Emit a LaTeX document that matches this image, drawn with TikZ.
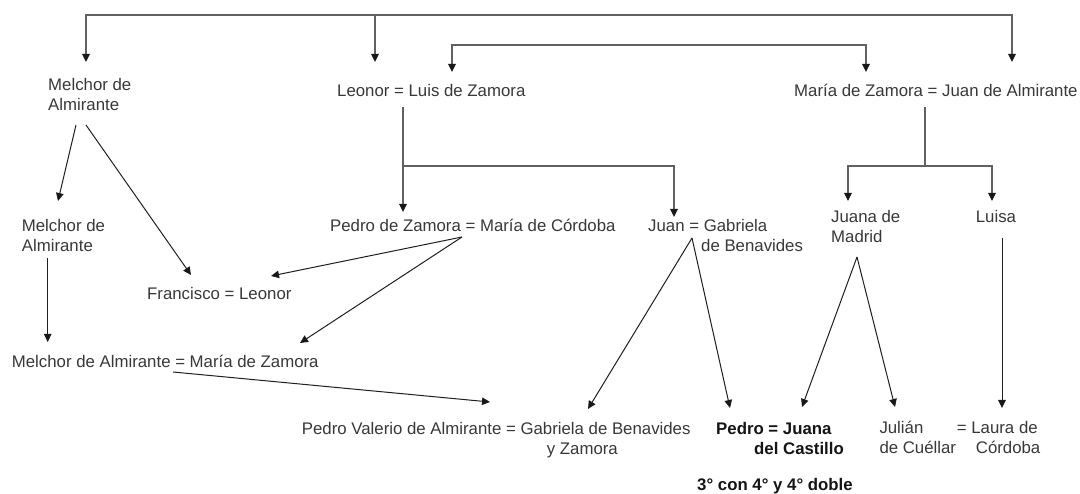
\documentclass[tikz,border=0pt]{standalone}
\usepackage{fontspec}
\setmainfont{Liberation Sans}
\usetikzlibrary{arrows.meta}
\begin{document}
\begin{tikzpicture}[x=1pt,y=-1pt,
  lbl/.style={anchor=base west, inner sep=0pt, align=left, text=black!78, font=\fontsize{16.8}{20}\selectfont},
  blbl/.style={lbl, text=black!92, font=\fontsize{16.8}{20}\selectfont\bfseries},
  treeline/.style={draw=black!62, line width=1.4pt},
  tree/.style={treeline, -{Triangle[length=8pt,width=7.5pt,color=black!90]}},
  diag/.style={draw=black!88, line width=1pt, -{Triangle[length=8pt,width=7.5pt,color=black!90]}}]
\useasboundingbox (0,0) rectangle (1080,494);

% labels (two-line labels are placed by the baseline of their last line)
\node[lbl] (m1) at (48,111) {Melchor de\\Almirante};
\node[lbl] (lz) at (337,97) {Leonor = Luis de Zamora};
\node[lbl] (mz) at (794,97) {María de Zamora = Juan de Almirante};
\node[lbl] (m2) at (21.7,251.7) {Melchor de\\Almirante};
\node[lbl] (pz) at (330,231.7) {Pedro de Zamora = María de Córdoba};
\node[lbl] (ju) at (648,251.7) {Juan = Gabriela\\\hspace*{53pt}de Benavides};
\node[lbl] (jm) at (831,242.7) {Juana de\\Madrid};
\node[lbl] (lu) at (975.7,222.7) {Luisa};
\node[lbl] (fr) at (147,300) {Francisco = Leonor};
\node[lbl] (mm) at (11.7,367.3) {Melchor de Almirante = María de Zamora};
\node[lbl] (pv) at (301.7,454) {Pedro Valerio de Almirante = Gabriela de Benavides\\\hspace*{245pt}y Zamora};
\node[blbl] (pj) at (716,454) {Pedro = Juana\\\hspace*{38pt}del Castillo};
\node[lbl] (jc) at (879.3,453.3) {Julián\\de Cuéllar};
\node[lbl] (lc) at (956.7,453.3) {= Laura de\\\hspace*{19pt}Córdoba};
\node[blbl] (nt) at (697,490) {3° con 4° y 4° doble};

% connection points
\coordinate (topL) at (86,15);
\coordinate (topM) at (375,15);
\coordinate (topR) at (1012,15);
\coordinate (m1in) at (86,62);
\coordinate (lzin1) at (375,62);
\coordinate (mzin2) at (1012,62);
\coordinate (b2m) at (659,45);
\coordinate (b2L) at (452,45);
\coordinate (b2R) at (866,45);
\coordinate (lzin2) at (452,72);
\coordinate (mzin1) at (866,72);
\coordinate (lzout) at (403,107);
\coordinate (lzj) at (403,166);
\coordinate (lzj2) at (674,166);
\coordinate (pzin) at (403,212);
\coordinate (juin) at (674,217);
\coordinate (mzout) at (925,107);
\coordinate (mzj) at (925,166);
\coordinate (mzjL) at (848,166);
\coordinate (mzjR) at (992,166);
\coordinate (jmin) at (848,201);
\coordinate (luin) at (992,201);
\coordinate (m1outA) at (76,125);
\coordinate (m1outB) at (86,125);
\coordinate (m2in) at (58,201);
\coordinate (frinA) at (191,275);
\coordinate (frinB) at (271,276);
\coordinate (m2out) at (47.7,258);
\coordinate (mmin1) at (47.7,342);
\coordinate (mmin2) at (300,343);
\coordinate (pzout) at (462,237);
\coordinate (mmout) at (173,372);
\coordinate (pvinA) at (490,402);
\coordinate (pvinB) at (588,409);
\coordinate (juout) at (692,238);
\coordinate (pjinA) at (730,408);
\coordinate (jmout) at (857,257);
\coordinate (pjinB) at (802,407);
\coordinate (jcin) at (895,407);
\coordinate (luout) at (1002,238);
\coordinate (lcin) at (1002,408);

% tree connectors
\draw[tree] (topM) -- (topL) -- (m1in);
\draw[tree] (topM) -- (topR) -- (mzin2);
\draw[tree] (topM) -- (lzin1);
\draw[tree] (b2m) -- (b2L) -- (lzin2);
\draw[tree] (b2m) -- (b2R) -- (mzin1);
\draw[tree] (lzout) -- (lzj) -- (pzin);
\draw[tree] (lzj) -- (lzj2) -- (juin);
\draw[treeline] (mzout) -- (mzj);
\draw[tree] (mzj) -- (mzjL) -- (jmin);
\draw[tree] (mzj) -- (mzjR) -- (luin);

% diagonal connectors
\draw[diag] (m1outA) -- (m2in);
\draw[diag] (m1outB) -- (frinA);
\draw[diag] (m2out) -- (mmin1);
\draw[diag] (pzout) -- (frinB);
\draw[diag] (pzout) -- (mmin2);
\draw[diag] (mmout) -- (pvinA);
\draw[diag] (juout) -- (pvinB);
\draw[diag] (juout) -- (pjinA);
\draw[diag] (jmout) -- (pjinB);
\draw[diag] (jmout) -- (jcin);
\draw[diag] (luout) -- (lcin);
\end{tikzpicture}
\end{document}
